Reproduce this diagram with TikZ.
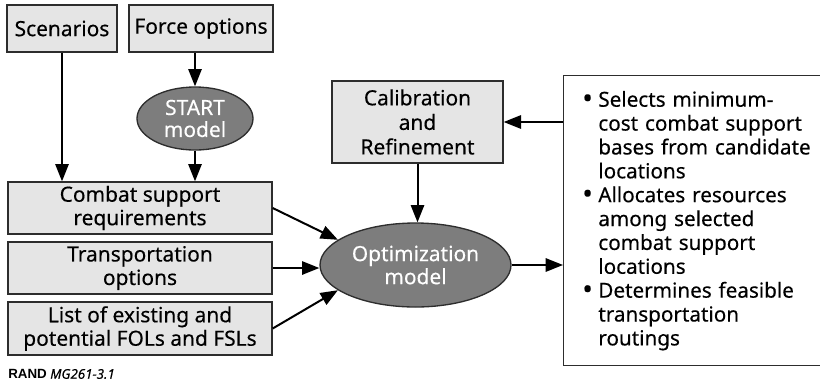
\documentclass[tikz,border=0pt]{standalone}
\usepackage{fontspec}
\setmainfont{Noto Sans}[FakeBold=0.3]
\newfontfamily\randfont{Liberation Sans}
\usetikzlibrary{arrows.meta,shapes.geometric}
\definecolor{boxgray}{RGB}{229,229,229}
\definecolor{ovalgray}{RGB}{125,125,125}
\definecolor{edgegray}{RGB}{45,45,45}
\tikzset{
  >={Triangle[length=13pt,width=10pt]},
}
\tikzstyle{inbox}=[draw=edgegray,line width=1pt,fill=boxgray,inner sep=0pt,align=center,font=\fontsize{15.7}{17.6}\selectfont]
\tikzstyle{model}=[ellipse,draw=edgegray,line width=1pt,fill=ovalgray,text=white,inner sep=0pt,align=center,font=\fontsize{15.7}{16.5}\selectfont]
\tikzstyle{flow}=[line width=1.5pt,->]
\newcommand{\bul}{\makebox[12pt][l]{\raisebox{-0.06em}{\scalebox{1.35}{\textbullet}}}}
\newcommand{\ind}{\hspace*{12pt}}

\begin{document}
\begin{tikzpicture}[x=0.75pt,y=-0.75pt]
  \useasboundingbox (0,0) rectangle (820,383);
  % inputs
  \node[inbox,minimum width=82.5pt,minimum height=35.25pt] (scen) at (62,28.5) {Scenarios};
  \node[inbox,minimum width=108pt,minimum height=35.25pt] (force) at (201,28.5) {Force options};
  \node[model,minimum width=87pt,minimum height=47.25pt] (start) at (195,118.5) {START\\model};
  \node[inbox,minimum width=198pt,minimum height=39pt] (combat) at (140,208) {Combat support\\requirements};
  \node[inbox,minimum width=198pt,minimum height=39pt] (trans) at (140,268) {Transportation\\options};
  \node[inbox,minimum width=198pt,minimum height=39.75pt] (list) at (140,328.5) {List of existing and\\potential FOLs and FSLs};
  % model
  \node[inbox,minimum width=128.25pt,minimum height=61.5pt,font=\fontsize{15.7}{18.4}\selectfont] (calib) at (417.5,122) {Calibration\\and\\Refinement};
  \node[model,minimum width=143.25pt,minimum height=63pt,font=\fontsize{15.7}{17.3}\selectfont] (opt) at (415.5,265) {Optimization\\model};
  % outputs
  \node[draw=edgegray,line width=1pt,anchor=north west,inner xsep=14pt,inner ysep=0pt,
    minimum height=217.5pt,text width=180pt,align=left,font=\fontsize{15.5}{17.9}\selectfont] (out) at (563,75)
    {\bul Selects minimum-\\
     \ind cost combat support\\
     \ind bases from candidate\\
     \ind locations\\
     \bul Allocates resources\\
     \ind among selected\\
     \ind combat support\\
     \ind locations\\
     \bul Determines feasible\\
     \ind transportation\\
     \ind routings};
  \node[anchor=west,inner sep=0pt,font=\fontsize{10}{11}\selectfont] (fig) at (8,374) {{\randfont\bfseries RAND} \textit{MG261-3.1}};
  % arrows
  \draw[flow] (scen) -- (scen |- combat.north);
  \draw[flow] (start |- force.south) -- (start.north);
  \draw[flow] (start.south) -- (start |- combat.north);
  \draw[flow] (combat.east) -- (opt.162);
  \draw[flow] (trans.east) -- (trans.east -| opt.west);
  \draw[flow] (list.east) -- (opt.198);
  \draw[flow] (calib.south) -- (calib.south |- opt.north);
  \draw[flow] (out.west |- calib.east) -- (calib.east);
  \draw[flow] (opt.east) -- (opt.east -| out.west);
\end{tikzpicture}
\end{document}
